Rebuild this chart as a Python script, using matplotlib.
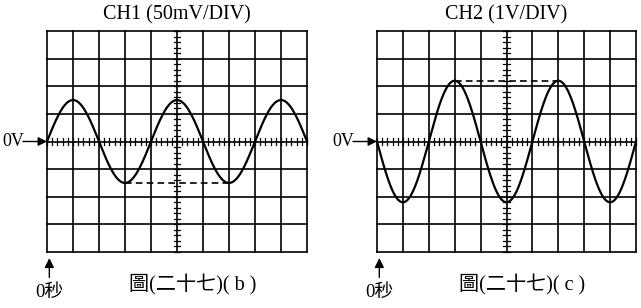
import numpy as np
import matplotlib
matplotlib.use("Agg")
import matplotlib.pyplot as plt

plt.rcParams['font.family'] = ['Liberation Serif', 'Noto Sans CJK TC', 'DejaVu Sans']

# Data (in divisions)
titles = ["CH1 (50mV/DIV)", "CH2 (1V/DIV)"]
captions = ["圖(二十七)( b )", "圖(二十七)( c )"]
amplitudes = [1.5, 2.2]          # peak in divisions
periods = [4.0, 4.0]             # divisions per cycle
signs = [1, -1]                  # +sin starts upward, -sin starts downward
dash_x = [(3, 7), (3, 7)]        # dashed reference line extent
dash_level = [-1.5, 2.2]
n_cols, n_rows = 10, 8
zero_label = "0V"
time_label = "0秒"

fig = plt.figure(figsize=(6.41, 3.08), dpi=100)
W, H = 641, 308
panels = [(47, 31, 260, 221), (377, 31, 259, 221)]

lw_grid = 1.2
for i, (px, py, pw, ph) in enumerate(panels):
    ax = fig.add_axes([px / W, 1 - (py + ph) / H, pw / W, ph / H])
    ax.set_xlim(0, n_cols)
    ax.set_ylim(-n_rows / 2, n_rows / 2)
    ax.axis('off')
    # grid
    for gx in range(n_cols + 1):
        ax.plot([gx, gx], [-n_rows / 2, n_rows / 2], color='black', lw=lw_grid, clip_on=False, solid_capstyle='projecting')
    for gy in range(-n_rows // 2, n_rows // 2 + 1):
        ax.plot([0, n_cols], [gy, gy], color='black', lw=lw_grid, clip_on=False, solid_capstyle='projecting')
    # minor ticks on center axes
    tx = np.arange(0, n_cols + 1e-9, 0.2)
    for t in tx:
        ax.plot([t, t], [-0.11, 0.11], color='black', lw=0.9, clip_on=False)
    ty = np.arange(-n_rows / 2, n_rows / 2 + 1e-9, 0.2)
    for t in ty:
        ax.plot([n_cols / 2 - 0.13, n_cols / 2 + 0.13], [t, t], color='black', lw=0.9, clip_on=False)
    # waveform
    x = np.linspace(0, n_cols, 600)
    y = signs[i] * amplitudes[i] * np.sin(2 * np.pi * x / periods[i])
    ax.plot(x, y, color='black', lw=1.6, clip_on=False)
    ax.plot(dash_x[i], [dash_level[i]] * 2, color='black', lw=1.2, ls=(0, (4, 2.5)))
    # title
    ax.text(0.5, 1.0 + 16 / ph, titles[i], transform=ax.transAxes, ha='center', va='center', fontsize=14.5)
    # 0V arrow
    ax.annotate('', xy=(0, 0), xytext=(-24, 0), textcoords='offset pixels',
                arrowprops=dict(arrowstyle='-|>', color='black', lw=1.0, mutation_scale=13,
                                shrinkA=0, shrinkB=0),
                annotation_clip=False)
    ax.annotate(zero_label, xy=(0, 0), xytext=(-23, 0), textcoords='offset pixels',
                ha='right', va='center', fontsize=13, annotation_clip=False)
    # 0 sec arrow
    ax.annotate('', xy=(0.09, -n_rows / 2 - 0.22), xytext=(0.09, -n_rows / 2 - 0.92),
                arrowprops=dict(arrowstyle='-|>', color='black', lw=1.0, mutation_scale=14,
                                shrinkA=0, shrinkB=0),
                annotation_clip=False)
    ax.text(0.1, -n_rows / 2 - 1.45, time_label, ha='center', va='center', fontsize=13.5)
    # caption
    ax.text(0.56, -33 / ph, captions[i], transform=ax.transAxes, ha='center', va='center', fontsize=14.5)

fig.savefig("out.png", dpi=100)
